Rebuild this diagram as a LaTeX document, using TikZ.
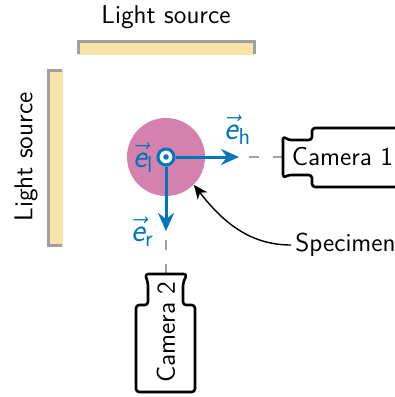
\documentclass[tikz,border=0pt]{standalone}
\usepackage{amsmath}
\usetikzlibrary{arrows.meta}
\definecolor{srcfill}{HTML}{F9E3A8}
\definecolor{srcedge}{HTML}{A0A0A0}
\definecolor{spec}{HTML}{D581AE}
\definecolor{axisblue}{HTML}{0077BB}
\newcommand{\evec}[1]{$\vec{\text{\sffamily\slshape e}}_{\text{\sffamily #1}}$}
\tikzset{
 lbl/.style={font=\sffamily\fontsize{12.9}{15}\selectfont,inner sep=0pt,text=black},
 vlbl/.style={font=\sffamily\fontsize{16.5}{19}\selectfont,inner sep=0pt,text=axisblue},
 edge/.style={draw=srcedge,line width=1.5pt},
 guide/.style={draw=srcedge,line width=0.6pt,dash pattern=on 5pt off 7pt},
 axis/.style={draw=axisblue,line width=1.5pt,-{Stealth[length=9pt,width=8pt,inset=3pt]}},
 cam/.style={draw=black,line width=1.3pt,line join=round,rounded corners=1.6pt},
}
\begin{document}
\begin{tikzpicture}[x=0.5pt,y=-0.5pt]
\useasboundingbox (0,0) rectangle (395,397);
\clip (0,0) rectangle (395,397);
% light sources
\fill[srcfill] (78,41) rectangle (254,55);
\draw[edge] (78,54) -- (78,41) -- (254,41) -- (254,54);
\fill[srcfill] (48,70) rectangle (63,245);
\draw[edge] (62,70) -- (48,70) -- (48,245) -- (62,245);
\node[lbl] (topsrc) at (166,17) {Light source};
\node[lbl,rotate=90] (leftsrc) at (26,157) {Light source};
% specimen
\node[circle,fill=spec,minimum size=39pt,inner sep=0pt] (specimen) at (166,157) {};
% guides
\coordinate (gh0) at (249,157);
\coordinate (gh1) at (284,157);
\coordinate (gr0) at (166,240);
\coordinate (gr1) at (166,275);
\draw[guide] (gh0) -- (gh1);
\draw[guide] (gr0) -- (gr1);
% cameras
\draw[cam] (396,128) -- (312,128) -- (312,140) -- (288,140) -- (283,136) -- (283,178) -- (288,175) -- (312,175) -- (312,187) -- (396,187);
\draw[cam] (145,274) -- (187,274) -- (183,283) -- (183,305) -- (195,305) -- (195,392) -- (136,392) -- (136,305) -- (148,305) -- (148,283) -- cycle;
\node[lbl] (cam1) at (342.5,157) {Camera 1};
\node[lbl,rotate=90] (cam2) at (166,332) {Camera 2};
% axes
\node[circle,draw=axisblue,fill=white,line width=1.5pt,minimum size=8pt,inner sep=0pt] (origin) at (166,157) {};
\fill[axisblue] (origin.center) circle (2.8);
\coordinate (eh) at (239,157);
\coordinate (er) at (166,231);
\draw[axis] (origin) -- (eh);
\draw[axis] (origin) -- (er);
\node[vlbl] (ehl) at (238,130) {\evec{h}};
\node[vlbl] (ell) at (143.5,158) {\evec{l}};
\node[vlbl] (erl) at (142.5,232) {\evec{r}};
% pointer
\node[lbl,anchor=west] (spc) at (295,245) {Specimen};
\draw[line width=0.7pt,shorten <=2pt,-{Stealth[length=7pt,width=6pt,inset=2pt]}] (spc.west) to[out=180,in=-52] (specimen.-45);
\end{tikzpicture}
\end{document}
